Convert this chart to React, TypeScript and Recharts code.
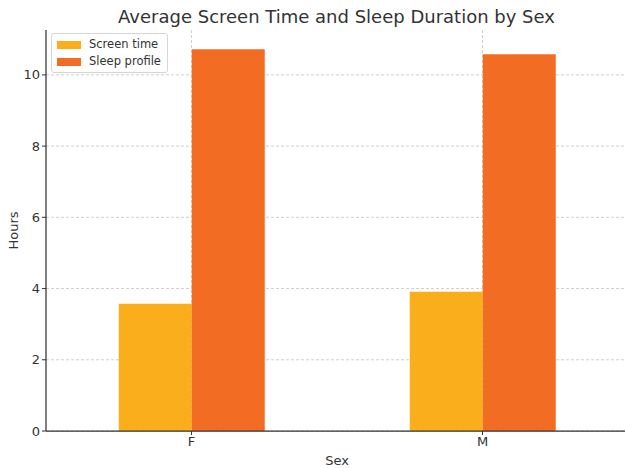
import React from 'react';
import { BarChart, Bar, XAxis, YAxis, CartesianGrid, Label } from 'recharts';

const sexes = ['F', 'M'];
const screenTime = [3.57, 3.91];
const sleepProfile = [10.72, 10.58];
const yTicks = [0, 2, 4, 6, 8, 10];

const SCREEN_COLOR = '#FBAE1B';
const SLEEP_COLOR = '#F26C23';
const FONT = 'DejaVu Sans, sans-serif';

const data = sexes.map((s, i) => ({
  sex: s,
  screen: screenTime[i],
  sleep: sleepProfile[i],
}));

const legendItems = [
  { label: 'Screen time', color: SCREEN_COLOR },
  { label: 'Sleep profile', color: SLEEP_COLOR },
];

const LegendBox = () => (
  <div
    style={{
      position: 'absolute',
      left: 51,
      top: 33,
      border: '1px solid #d6d6d6',
      borderRadius: 3,
      background: 'rgba(255,255,255,0.85)',
      padding: '2px 6px 2px 5px',
      fontFamily: FONT,
      fontSize: 11.5,
      color: '#333',
      lineHeight: '17px',
      zIndex: 2,
    }}
  >
    {legendItems.map((it) => (
      <div key={it.label} style={{ display: 'flex', alignItems: 'center' }}>
        <span style={{ display: 'inline-block', width: 24, height: 8, background: it.color, marginRight: 8 }} />
        {it.label}
      </div>
    ))}
  </div>
);

export default function App() {
  return (
    <div style={{ position: 'absolute', left: 0, top: 0, width: 625, height: 468, background: '#fff', overflow: 'hidden' }}>
      <div
        style={{
          position: 'absolute',
          top: 6,
          left: 0,
          width: 673,
          textAlign: 'center',
          fontFamily: FONT,
          fontSize: 18,
          color: '#333',
        }}
      >
        Average Screen Time and Sleep Duration by Sex
      </div>
      <LegendBox />
      <BarChart
        width={628}
        height={468}
        data={data}
        margin={{ top: 30, right: 0, left: 0, bottom: 0 }}
        barCategoryGap="25%"
        barGap={0}
      >
        <CartesianGrid
          stroke="#cfcfcf"
          strokeDasharray="3 2"
          horizontalValues={yTicks}
          verticalValues={sexes}
        />
        <XAxis
          dataKey="sex"
          height={37}
          axisLine={{ stroke: '#333', strokeWidth: 1.25 }}
          tickLine={{ stroke: '#333' }}
          tickSize={4}
          tick={{ fill: '#333', fontSize: 13, fontFamily: FONT }}
        >
          <Label value="Sex" position="insideBottom" offset={3} style={{ fill: '#333', fontSize: 13, fontFamily: FONT }} />
        </XAxis>
        <YAxis
          width={46}
          domain={[0, 11.26]}
          ticks={yTicks}
          axisLine={{ stroke: '#333', strokeWidth: 1.25 }}
          tickLine={{ stroke: '#333' }}
          tickSize={4}
          tick={{ fill: '#333', fontSize: 13, fontFamily: FONT }}
        >
          <Label value="Hours" angle={-90} position="insideLeft" offset={13} style={{ fill: '#333', fontSize: 13, fontFamily: FONT, textAnchor: 'middle' }} />
        </YAxis>
        <Bar dataKey="screen" name="Screen time" fill={SCREEN_COLOR} isAnimationActive={false} />
        <Bar dataKey="sleep" name="Sleep profile" fill={SLEEP_COLOR} isAnimationActive={false} />
      </BarChart>
    </div>
  );
}
